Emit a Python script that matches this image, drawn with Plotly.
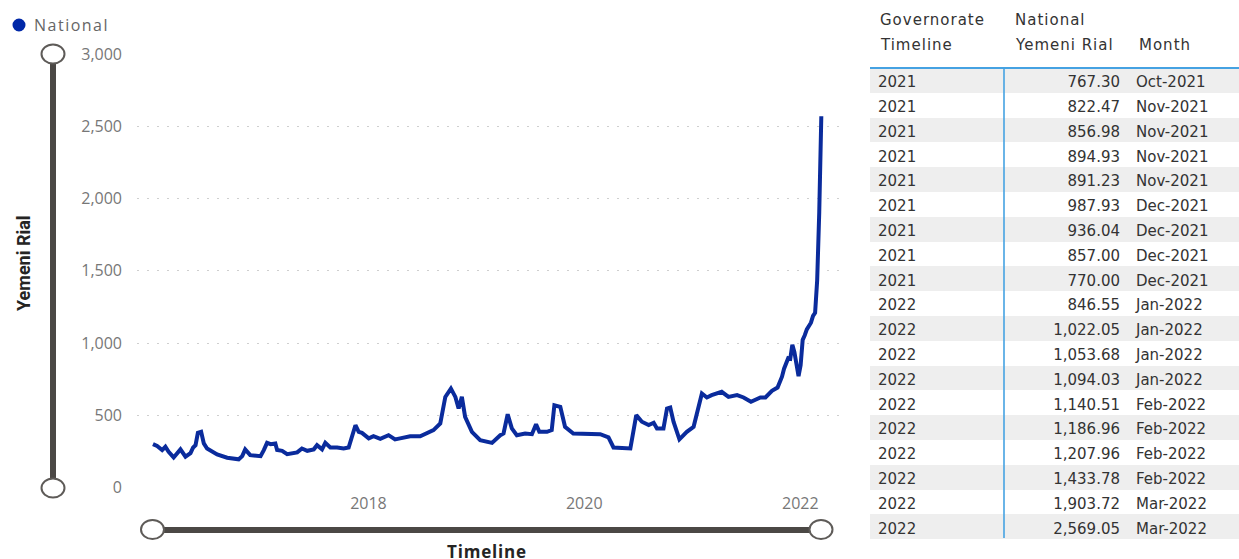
import pandas as pd
import plotly.graph_objects as go

# Weekly national average price (Yemeni Rial), 2016 - Oct 2021
hist_dates = [
    "2016-01-03", "2016-01-17", "2016-02-03", "2016-02-14", "2016-02-25", "2016-03-13",
    "2016-04-05", "2016-04-22", "2016-05-09", "2016-05-18", "2016-05-26", "2016-06-03",
    "2016-06-14", "2016-06-23", "2016-07-04", "2016-08-07", "2016-09-10", "2016-10-19",
    "2016-10-31", "2016-11-10", "2016-11-27", "2017-01-01", "2017-01-12", "2017-01-23",
    "2017-02-04", "2017-02-20", "2017-02-26", "2017-03-15", "2017-04-01", "2017-05-05",
    "2017-05-21", "2017-06-08", "2017-06-30", "2017-07-11", "2017-07-28", "2017-08-08",
    "2017-08-25", "2017-09-17", "2017-10-09", "2017-10-26", "2017-11-18", "2017-11-29",
    "2017-12-10", "2018-01-02", "2018-01-18", "2018-02-10", "2018-03-10", "2018-04-01",
    "2018-04-18", "2018-05-22", "2018-06-25", "2018-07-18", "2018-08-09", "2018-09-01",
    "2018-09-18", "2018-10-07", "2018-10-22", "2018-11-02", "2018-11-13", "2018-11-24",
    "2018-12-17", "2019-01-14", "2019-02-23", "2019-03-23", "2019-04-03", "2019-04-17",
    "2019-05-01", "2019-05-18", "2019-06-15", "2019-07-08", "2019-07-22", "2019-08-02",
    "2019-08-28", "2019-09-13", "2019-09-22", "2019-10-12", "2019-10-28", "2019-11-25",
    "2020-01-10", "2020-02-24", "2020-03-23", "2020-04-09", "2020-06-05", "2020-06-25",
    "2020-07-14", "2020-08-06", "2020-08-23", "2020-09-03", "2020-09-25", "2020-10-07",
    "2020-10-18", "2020-10-29", "2020-11-18", "2020-12-13", "2021-01-05", "2021-02-02",
    "2021-02-19", "2021-03-07", "2021-04-10", "2021-05-03", "2021-06-01", "2021-06-23",
    "2021-07-18", "2021-08-19", "2021-09-05", "2021-09-27", "2021-10-16",
]
hist_values = [
    300, 287, 259, 282, 247, 208,
    264, 213, 238, 277, 293, 378,
    385, 305, 270, 229, 206, 195,
    217, 264, 224, 217, 259, 309,
    300, 305, 259, 254, 231, 243,
    270, 254, 264, 293, 264, 309,
    277, 277, 270, 277, 431, 385,
    378, 340, 355, 337, 362, 333,
    340, 355, 355, 374, 397, 443,
    627, 685, 627, 547, 627, 489,
    385, 328, 309, 362, 374, 507,
    409, 362, 374, 369, 438, 385,
    385, 397, 569, 558, 420, 374,
    369, 369, 347, 277, 270, 501,
    455, 432, 448, 409, 409, 547,
    554, 455, 333, 385, 420, 651,
    623, 639, 662, 627, 639, 623,
    593, 623, 623, 669, 692,
]

# Most recent weekly observations (listed in the table)
recent_dates = [
    "2021-10-31", "2021-11-07", "2021-11-14", "2021-11-21", "2021-11-28",
    "2021-12-05", "2021-12-12", "2021-12-19", "2021-12-26", "2022-01-02",
    "2022-01-09", "2022-01-16", "2022-01-23", "2022-02-06", "2022-02-13",
    "2022-02-20", "2022-02-27", "2022-03-06", "2022-03-13",
]
recent_values = [
    767.30, 822.47, 856.98, 894.93, 891.23, 987.93, 936.04, 857.00, 770.00, 846.55,
    1022.05, 1053.68, 1094.03, 1140.51, 1186.96, 1207.96, 1433.78, 1903.72, 2569.05,
]

y_ticks = [0, 500, 1000, 1500, 2000, 2500, 3000]
x_tick_years = ["2018-01-01", "2020-01-01", "2022-01-01"]

# table header: (column, line) labels
header_top = ["Governorate", "National", ""]
header_bottom = ["Timeline", "Yemeni Rial", "Month"]

W, H = 1239, 559
LINE_BLUE = "#0A2B9C"
SLIDER = "#4B4845"
SEP_BLUE = "#45A2E2"
TABLE_FONT = dict(family="DejaVu Sans", size=15, color="#333333")


def px(x):
    return x / W


def py(y):
    return 1 - y / H


def spaced(text, ls):
    return f"<span style='letter-spacing:{ls}px'>{text}</span>"


dates = pd.to_datetime(hist_dates + recent_dates)
values = hist_values + recent_values

fig = go.Figure()

fig.add_trace(go.Scatter(
    x=dates, y=values, mode="lines", name="National",
    line=dict(color=LINE_BLUE, width=4), showlegend=False,
))

# Table of the latest records (header labels are drawn separately)
rd = pd.to_datetime(recent_dates)
col_year = [d.strftime("%Y") for d in rd]
col_value = [f"{v:,.2f}" for v in recent_values]
col_month = [d.strftime("%b-%Y") for d in rd]
row_fill = ["#EEEEEE" if i % 2 == 0 else "#FFFFFF" for i in range(len(rd))]

fig.add_trace(go.Table(
    domain=dict(x=[px(870), 1.0], y=[0.0, py(52)]),
    columnwidth=[134, 124, 111],
    header=dict(values=[], height=0, line=dict(width=0)),
    cells=dict(
        values=[col_year, col_value, col_month],
        align=["left", "right", "left"], height=24.8,
        fill_color=[row_fill] * 3, line=dict(color="rgba(0,0,0,0)", width=0),
        font=TABLE_FONT,
    ),
))

shapes = []
# table separators
shapes.append(dict(type="line", xref="paper", yref="paper", x0=px(870), x1=1.0,
                   y0=py(68), y1=py(68), line=dict(color=SEP_BLUE, width=2)))
shapes.append(dict(type="line", xref="paper", yref="paper", x0=px(1004), x1=px(1004),
                   y0=py(68), y1=py(538), line=dict(color=SEP_BLUE, width=1.6)))
# vertical range slider
shapes.append(dict(type="line", xref="paper", yref="paper", x0=px(53), x1=px(53),
                   y0=py(54), y1=py(488), line=dict(color=SLIDER, width=6)))
# horizontal range slider
shapes.append(dict(type="line", xref="paper", yref="paper", x0=px(152), x1=px(821),
                   y0=py(530), y1=py(530), line=dict(color=SLIDER, width=6)))
for cx, cy in [(53, 54), (53, 488), (152.5, 529.5), (821, 529.5)]:
    shapes.append(dict(type="circle", xref="paper", yref="paper",
                       x0=px(cx - 11.5), x1=px(cx + 11.5), y0=py(cy + 9.5), y1=py(cy - 9.5),
                       fillcolor="#FFFFFF", line=dict(color="#5E5B58", width=2)))
# legend marker
shapes.append(dict(type="circle", xref="paper", yref="paper",
                   x0=px(12.5), x1=px(25.5), y0=py(31.5), y1=py(18.5),
                   fillcolor="#0028A8", line=dict(color="#0028A8", width=0)))

annotations = [
    dict(text=spaced("National", 1.5), xref="paper", yref="paper", x=px(32), y=py(25),
         xanchor="left", yanchor="middle", showarrow=False,
         font=dict(family="Open Sans", size=16, color="#666666")),
    dict(text="<b>Yemeni Rial</b>", xref="paper", yref="paper", x=px(23), y=py(263),
         xanchor="center", yanchor="middle", textangle=-90, showarrow=False,
         font=dict(family="Roboto", size=18, color="#252423")),
    dict(text=spaced("<b>Timeline</b>", 0.8), xref="paper", yref="paper", x=px(487), y=py(551),
         xanchor="center", yanchor="middle", showarrow=False,
         font=dict(family="Open Sans", size=17, color="#252423")),
]
# table header labels
header_x = [878, 1013, 1137]
for hx, top, bottom in zip(header_x, header_top, header_bottom):
    for label, hy in ((top, 20), (bottom, 45)):
        if label:
            annotations.append(dict(
                text=spaced(label, 1.0), xref="paper", yref="paper", x=px(hx), y=py(hy),
                xanchor="left", yanchor="middle", showarrow=False, font=TABLE_FONT))

fig.update_layout(
    template="none",
    width=W, height=H,
    margin=dict(l=0, r=0, t=0, b=0, pad=0),
    paper_bgcolor="#FFFFFF", plot_bgcolor="#FFFFFF",
    showlegend=False,
    shapes=shapes, annotations=annotations,
    xaxis=dict(
        domain=[px(137), px(842)],
        range=["2015-11-10", "2022-05-22"],
        type="date", tickvals=x_tick_years, tickformat="%Y",
        showgrid=False, zeroline=False, showline=False, ticks="",
        tickfont=dict(family="Open Sans", size=16, color="#777777"),
        ticklabelstandoff=4, automargin=False,
    ),
    yaxis=dict(
        domain=[py(487.5), py(54)],
        range=[0, 3000],
        tickvals=y_ticks, tickformat=",d",
        showgrid=True, gridcolor="#CFCFCF", gridwidth=1, griddash="2px,8px",
        zeroline=False, showline=False, ticks="",
        tickfont=dict(family="Open Sans", size=16, color="#777777"),
        ticklabelstandoff=14, automargin=False,
    ),
)

fig.write_html("out.html")
